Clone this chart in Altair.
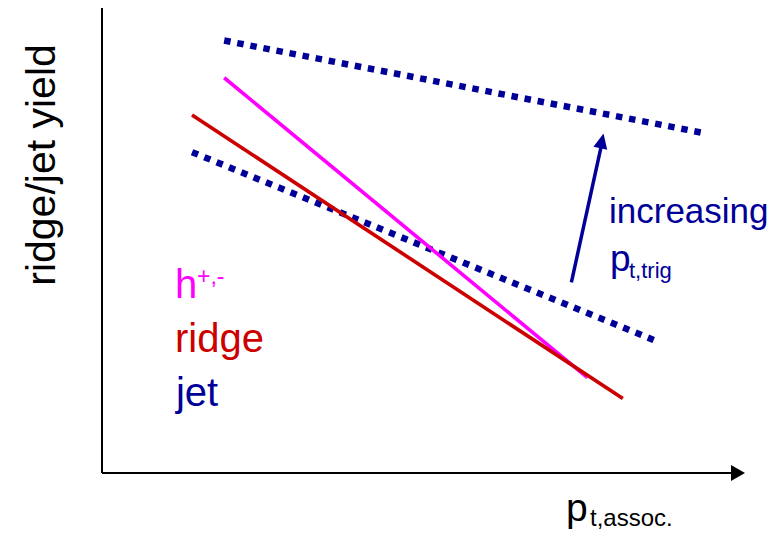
import altair as alt
import pandas as pd

# Schematic units: axis origin at (0, 0), axes run to 10 in both directions
series = ["jet (high p_t,trig)", "jet (low p_t,trig)", "h+,-", "ridge"]
x_start = [1.9, 1.4, 1.9, 1.4]
y_start = [9.3, 6.9, 8.5, 7.7]
x_end = [9.4, 8.58, 7.55, 8.1]
y_end = [7.3, 2.86, 2.05, 1.6]

# axes (x axis ends in an arrow head)
axis_name = ["x", "y"]
axis_x0 = [0.0, 0.0]
axis_y0 = [0.0, 0.0]
axis_x1 = [9.8, 0.0]
axis_y1 = [0.0, 10.0]
x_arrow_tip = [10.0]
x_arrow_y = [0.0]

# "increasing p_t,trig" arrow
trig_x0 = [7.3]
trig_y0 = [4.1]
trig_x1 = [7.76]
trig_y1 = [7.0]
trig_tip_x = [7.8]
trig_tip_y = [7.3]

# text labels (anchor points in schematic units)
label_text = ["h", "+,-", "ridge", "jet", "increasing", "p", "t,trig", "p", "t,assoc.", "ridge/jet yield"]
label_x = [1.135, 1.477, 1.135, 1.15, 7.885, 7.9, 8.196, 7.216, 7.589, -0.918]
label_y = [3.763, 4.065, 2.602, 1.441, 5.376, 4.344, 4.194, -1.03, -1.14, 6.624]

MAGENTA = "#FF00FF"
RED = "#CC0000"
NAVY = "#000099"
FONT = "Liberation Sans"

XS = alt.Scale(domain=[-1.462, 10.42], nice=False, zero=False)
YS = alt.Scale(domain=[-1.226, 10.0], nice=False, zero=False)

lines = pd.DataFrame({"series": series, "x": x_start, "y": y_start, "x2": x_end, "y2": y_end})
axes = pd.DataFrame({"axis": axis_name, "x": axis_x0, "y": axis_y0, "x2": axis_x1, "y2": axis_y1})
xtip = pd.DataFrame({"x": x_arrow_tip, "y": x_arrow_y})
trig = pd.DataFrame({"x": trig_x0, "y": trig_y0, "x2": trig_x1, "y2": trig_y1})
trig_tip = pd.DataFrame({"x": trig_tip_x, "y": trig_tip_y})
labels = pd.DataFrame({"text": label_text, "x": label_x, "y": label_y})


def seg(df, name, **mark):
    return alt.Chart(df).transform_filter(alt.datum.series == name).mark_rule(**mark).encode(
        x=alt.X("x:Q", scale=XS, axis=None), y=alt.Y("y:Q", scale=YS, axis=None),
        x2="x2:Q", y2="y2:Q")


def txt(i, color, size, **kw):
    return alt.Chart(labels).transform_filter(alt.datum.text == label_text[i]).transform_filter(
        alt.datum.x == label_x[i]).mark_text(
        font=FONT, fontSize=size, color=color, align=kw.pop("align", "left"),
        baseline=kw.pop("baseline", "alphabetic"), **kw).encode(
        x=alt.X("x:Q", scale=XS, axis=None), y=alt.Y("y:Q", scale=YS, axis=None), text="text:N")


axis_layer = alt.Chart(axes).mark_rule(color="#000000", strokeWidth=2).encode(
    x=alt.X("x:Q", scale=XS, axis=None), y=alt.Y("y:Q", scale=YS, axis=None), x2="x2:Q", y2="y2:Q")
axis_head = alt.Chart(xtip).mark_point(
    shape="M0,0 L-1,-0.57 L-1,0.57 Z", filled=True, size=784, color="#000000", opacity=1, strokeWidth=0
).encode(x=alt.X("x:Q", scale=XS, axis=None), y=alt.Y("y:Q", scale=YS, axis=None))

jet_hi = seg(lines, series[0], color=NAVY, strokeWidth=6.5, strokeDash=[6.5, 6.8], strokeCap="butt")
jet_lo = seg(lines, series[1], color=NAVY, strokeWidth=6.5, strokeDash=[6.5, 6.8], strokeCap="butt")
hadr = seg(lines, series[2], color=MAGENTA, strokeWidth=3.6)
ridge = seg(lines, series[3], color=RED, strokeWidth=3.6)

trig_line = alt.Chart(trig).mark_rule(color=NAVY, strokeWidth=3.5).encode(
    x=alt.X("x:Q", scale=XS, axis=None), y=alt.Y("y:Q", scale=YS, axis=None), x2="x2:Q", y2="y2:Q")
trig_head = alt.Chart(trig_tip).mark_point(
    shape="M0,0 L-0.47,1 L0.47,1 Z", filled=True, size=900, angle=12.4, color=NAVY, opacity=1, strokeWidth=0
).encode(x=alt.X("x:Q", scale=XS, axis=None), y=alt.Y("y:Q", scale=YS, axis=None))

texts = [
    txt(0, MAGENTA, 40),
    txt(1, MAGENTA, 23),
    txt(2, RED, 40),
    txt(3, NAVY, 40),
    txt(4, NAVY, 35),
    txt(5, NAVY, 37),
    txt(6, NAVY, 22),
    txt(7, "#000000", 39),
    txt(8, "#000000", 24),
    txt(9, "#000000", 41, angle=270, align="center", baseline="middle"),
]

chart = alt.layer(axis_layer, axis_head, jet_hi, jet_lo, hadr, ridge, trig_line, trig_head, *texts).properties(
    width=764, height=522, padding=0, autosize=alt.AutoSizeParams(type="none"),
    background="#FFFFFF",
).configure_view(stroke=None)

chart.save("out.html", embed_options={"renderer": "svg", "actions": False})
